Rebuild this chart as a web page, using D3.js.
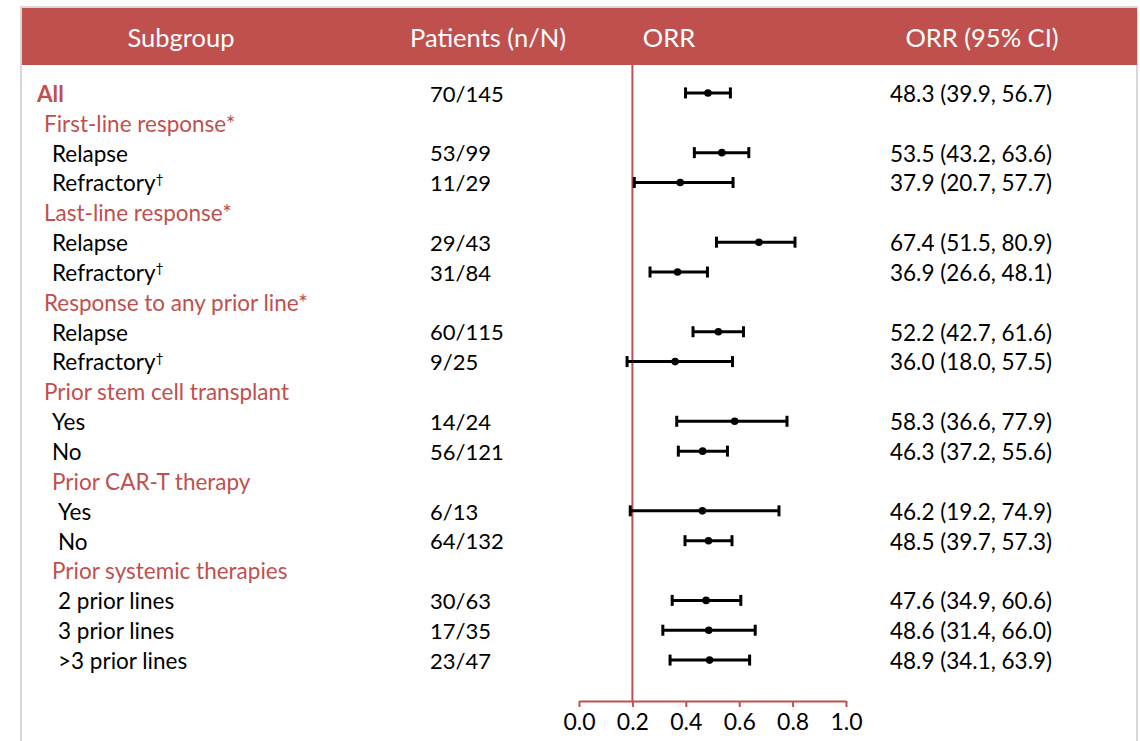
<!DOCTYPE html>
<html>
<head>
<meta charset="utf-8">
<script src="https://cdn.jsdelivr.net/npm/d3@7"></script>
<style>
  html, body { margin: 0; padding: 0; background: #fff; }
  svg { display: block; font-family: Lato, "Open Sans", sans-serif; }
</style>
</head>
<body>
<svg id="chart" width="1140" height="741"></svg>
<script>
// Subgroup rows, top to bottom
const labels = [
  "All",
  "First-line response*", "Relapse", "Refractory†",
  "Last-line response*", "Relapse", "Refractory†",
  "Response to any prior line*", "Relapse", "Refractory†",
  "Prior stem cell transplant", "Yes", "No",
  "Prior CAR-T therapy", "Yes", "No",
  "Prior systemic therapies", "2 prior lines", "3 prior lines", ">3 prior lines"
];
// "all" = overall row, "group" = section heading, "item" = subgroup with an estimate
const kinds = [
  "all",
  "group", "item", "item",
  "group", "item", "item",
  "group", "item", "item",
  "group", "item", "item",
  "group", "item", "item",
  "group", "item", "item", "item"
];
const patients = [
  "70/145",
  "", "53/99", "11/29",
  "", "29/43", "31/84",
  "", "60/115", "9/25",
  "", "14/24", "56/121",
  "", "6/13", "64/132",
  "", "30/63", "17/35", "23/47"
];
// ORR with 95% CI, in percent
const orr = [48.3, null, 53.5, 37.9, null, 67.4, 36.9, null, 52.2, 36.0, null, 58.3, 46.3, null, 46.2, 48.5, null, 47.6, 48.6, 48.9];
const ciLow = [39.9, null, 43.2, 20.7, null, 51.5, 26.6, null, 42.7, 18.0, null, 36.6, 37.2, null, 19.2, 39.7, null, 34.9, 31.4, 34.1];
const ciHigh = [56.7, null, 63.6, 57.7, null, 80.9, 48.1, null, 61.6, 57.5, null, 77.9, 55.6, null, 74.9, 57.3, null, 60.6, 66.0, 63.9];

const headers = ["Subgroup", "Patients (n/N)", "ORR", "ORR (95% CI)"];
const axisTicks = [0, 0.2, 0.4, 0.6, 0.8, 1.0];
const referenceValue = 0.2;

const red = "#c0504d";
const svg = d3.select("#chart");

// Outer frame and header band
svg.append("rect")
  .attr("x", 21).attr("y", 7).attr("width", 1116).attr("height", 760)
  .attr("fill", "none").attr("stroke", "#d9d9d9").attr("stroke-width", 2);
svg.append("rect")
  .attr("x", 22).attr("y", 8).attr("width", 1115).attr("height", 57)
  .attr("fill", red);

const headerX = [181, 488, 669, 982];
svg.selectAll("text.hdr").data(headers).join("text")
  .attr("class", "hdr")
  .attr("x", (d, i) => headerX[i]).attr("y", 38)
  .attr("dy", "0.35em").attr("text-anchor", "middle")
  .attr("fill", "#fff").attr("font-size", 25.5)
  .text(d => d);

// Scales
const idx = d3.range(labels.length);
const y = d3.scaleBand().domain(idx).range([78, 675]);
const yc = i => y(i) + y.bandwidth() / 2;
const x = d3.scaleLinear().domain([0, 1]).range([579, 846]);

// Section index per row (later sections are indented a little further)
let section = -1;
const sectionOf = kinds.map(k => (k === "group" ? ++section : section));
const labelX = i => {
  const extra = sectionOf[i] >= 4 ? 6 : 0;
  if (kinds[i] === "all") return 37;
  if (kinds[i] === "group") return 44 + (sectionOf[i] >= 4 ? 8 : 0);
  return 52 + extra;
};

const bodySize = 22.5;

// Subgroup labels
const lab = svg.selectAll("text.lab").data(idx).join("text")
  .attr("class", "lab")
  .attr("x", labelX).attr("y", i => yc(i) + 1).attr("dy", "0.35em")
  .attr("font-size", bodySize)
  .attr("font-weight", i => kinds[i] === "all" ? "bold" : "normal")
  .attr("fill", i => kinds[i] === "item" ? "#000" : red);
lab.each(function (i) {
  const t = d3.select(this);
  const s = labels[i];
  if (s.endsWith("†")) {
    t.append("tspan").text(s.slice(0, -1));
    t.append("tspan").attr("font-size", 14).attr("dy", "-0.55em").text("†");
  } else {
    t.text(s);
  }
});

// Patients column
svg.selectAll("text.pat").data(idx.filter(i => patients[i])).join("text")
  .attr("class", "pat")
  .attr("x", 430).attr("y", i => yc(i) + 1).attr("dy", "0.35em")
  .attr("font-size", 22).attr("fill", "#000")
  .text(i => patients[i]);

// ORR (95% CI) column
const est = idx.filter(i => orr[i] != null);
svg.selectAll("text.ci").data(est).join("text")
  .attr("class", "ci")
  .attr("x", 890).attr("y", i => yc(i) + 1).attr("dy", "0.35em")
  .attr("font-size", 22.5).attr("fill", "#000")
  .text(i => `${orr[i].toFixed(1)} (${ciLow[i].toFixed(1)}, ${ciHigh[i].toFixed(1)})`);

// Reference line
svg.append("line")
  .attr("x1", x(referenceValue)).attr("x2", x(referenceValue))
  .attr("y1", 65).attr("y2", 702)
  .attr("stroke", red).attr("stroke-width", 2);

// Axis
const axis = d3.axisBottom(x).tickValues(axisTicks).tickFormat(d3.format(".1f")).tickSize(6).tickSizeOuter(0);
const ax = svg.append("g").attr("transform", "translate(0,701)").call(axis);
ax.select(".domain").attr("stroke", red).attr("stroke-width", 2);
ax.selectAll(".tick line").attr("stroke", red).attr("stroke-width", 2);
ax.selectAll(".tick text")
  .attr("fill", "#000").attr("font-size", 23)
  .attr("font-family", "Lato, 'Open Sans', sans-serif")
  .attr("y", 13);

// Confidence intervals and point estimates
const g = svg.append("g");
const capH = 5.5;
g.selectAll("line.ci").data(est).join("line")
  .attr("x1", i => x(ciLow[i] / 100)).attr("x2", i => x(ciHigh[i] / 100))
  .attr("y1", yc).attr("y2", yc)
  .attr("stroke", "#000").attr("stroke-width", 3);
g.selectAll("line.lo").data(est).join("line")
  .attr("x1", i => x(ciLow[i] / 100)).attr("x2", i => x(ciLow[i] / 100))
  .attr("y1", i => yc(i) - capH).attr("y2", i => yc(i) + capH)
  .attr("stroke", "#000").attr("stroke-width", 3);
g.selectAll("line.hi").data(est).join("line")
  .attr("x1", i => x(ciHigh[i] / 100)).attr("x2", i => x(ciHigh[i] / 100))
  .attr("y1", i => yc(i) - capH).attr("y2", i => yc(i) + capH)
  .attr("stroke", "#000").attr("stroke-width", 3);
g.selectAll("circle").data(est).join("circle")
  .attr("cx", i => x(orr[i] / 100)).attr("cy", yc).attr("r", 3.8)
  .attr("fill", "#000");
</script>
</body>
</html>
